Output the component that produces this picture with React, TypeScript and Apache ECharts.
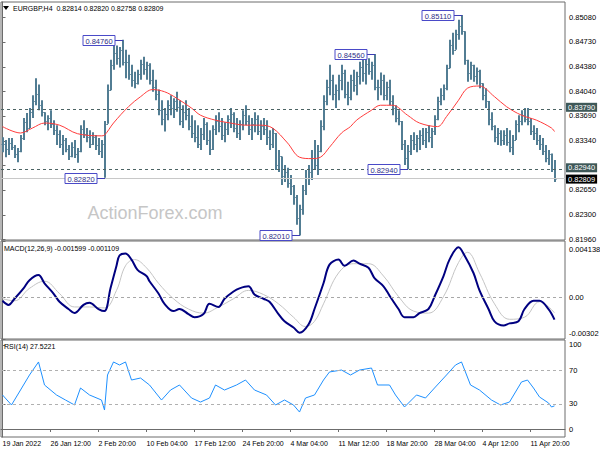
import React, { useEffect, useRef } from "react";
import * as echarts from "echarts";

// ---------- price bars (EURGBP H4, ~2 bars merged per slot) ----------
const highs = [
  0.8339, 0.8335, 0.8338, 0.8338, 0.8328, 0.8324, 0.8342, 0.8366, 0.8373, 0.838,
  0.8398, 0.8422, 0.8413, 0.8391, 0.8374, 0.837, 0.8377, 0.8363, 0.8356, 0.8349,
  0.8342, 0.8338, 0.8328, 0.8332, 0.8335, 0.8324, 0.8356, 0.8363, 0.8352, 0.8349,
  0.8346, 0.8342, 0.8338, 0.8335, 0.8362, 0.8413, 0.8448, 0.847, 0.8468, 0.8466,
  0.8476, 0.8462, 0.8455, 0.8441, 0.8431, 0.8434, 0.8448, 0.8452, 0.8445, 0.8443,
  0.8434, 0.842, 0.8406, 0.8391, 0.838, 0.8391, 0.8398, 0.8394, 0.8403, 0.8391,
  0.8384, 0.8391, 0.838, 0.837, 0.8363, 0.8356, 0.8352, 0.8366, 0.836, 0.8349,
  0.8356, 0.837, 0.8374, 0.8366, 0.836, 0.837, 0.838, 0.8374, 0.8366, 0.8363,
  0.8377, 0.8384, 0.837, 0.8366, 0.8374, 0.837, 0.8363, 0.8366, 0.8363, 0.8349,
  0.8352, 0.8345, 0.8321, 0.8312, 0.83, 0.8296, 0.8286, 0.8272, 0.8258, 0.8244,
  0.8272, 0.8293, 0.83, 0.8321, 0.8335, 0.8328, 0.8363, 0.8398, 0.842, 0.8441,
  0.8427, 0.8413, 0.8427, 0.8441, 0.8434, 0.8417, 0.8427, 0.8434, 0.8431, 0.8445,
  0.8448, 0.8451, 0.845, 0.8445, 0.8456, 0.842, 0.843, 0.8427, 0.8417, 0.842,
  0.8398, 0.8384, 0.8377, 0.8362, 0.8335, 0.8328, 0.8342, 0.8346, 0.8342, 0.8349,
  0.8352, 0.8352, 0.8356, 0.8352, 0.837, 0.8396, 0.8408, 0.8413, 0.8441, 0.8476,
  0.8486, 0.849, 0.8504, 0.8511, 0.8488, 0.8448, 0.8445, 0.8441, 0.8437, 0.8434,
  0.8415, 0.8408, 0.839, 0.8374, 0.8356, 0.8352, 0.8349, 0.8349, 0.8352, 0.8349,
  0.8342, 0.8363, 0.837, 0.8377, 0.838, 0.838, 0.8366, 0.8356, 0.8352, 0.8342,
  0.8338, 0.8328, 0.8321, 0.8316, 0.8307,
];
const lows = [
  0.8318, 0.8311, 0.8314, 0.8321, 0.831, 0.8304, 0.8318, 0.8335, 0.8346, 0.8352,
  0.8366, 0.8384, 0.8377, 0.8368, 0.8356, 0.8349, 0.8352, 0.8342, 0.8328, 0.8324,
  0.8314, 0.8318, 0.8307, 0.8311, 0.831, 0.8303, 0.8318, 0.8338, 0.8332, 0.8324,
  0.8328, 0.8321, 0.8314, 0.831, 0.8282, 0.8358, 0.8405, 0.8434, 0.8441, 0.8437,
  0.844, 0.8422, 0.842, 0.841, 0.8408, 0.8413, 0.842, 0.8427, 0.842, 0.8413,
  0.8403, 0.8391, 0.837, 0.8356, 0.8347, 0.8363, 0.837, 0.8366, 0.8375, 0.8356,
  0.8352, 0.8363, 0.8349, 0.8338, 0.8332, 0.8324, 0.8321, 0.8335, 0.8328, 0.8314,
  0.8321, 0.8342, 0.8346, 0.8335, 0.8332, 0.8342, 0.8352, 0.8346, 0.8338, 0.8335,
  0.8349, 0.8356, 0.8342, 0.8335, 0.8346, 0.8342, 0.8335, 0.8342, 0.8328, 0.8321,
  0.8324, 0.8293, 0.829, 0.8272, 0.8276, 0.8268, 0.8258, 0.8244, 0.8216, 0.8201,
  0.823, 0.8258, 0.8272, 0.8279, 0.8293, 0.8286, 0.8318, 0.8349, 0.8384, 0.8398,
  0.8391, 0.838, 0.8391, 0.8405, 0.8394, 0.8384, 0.8391, 0.8403, 0.8398, 0.8413,
  0.8417, 0.8413, 0.8427, 0.842, 0.8405, 0.8391, 0.8398, 0.8391, 0.8391, 0.8384,
  0.837, 0.836, 0.8356, 0.8321, 0.83, 0.8294, 0.8314, 0.8321, 0.8318, 0.8321,
  0.8328, 0.8324, 0.8332, 0.8324, 0.8342, 0.8363, 0.8384, 0.8391, 0.8405, 0.8436,
  0.8455, 0.8462, 0.8476, 0.8483, 0.8441, 0.8417, 0.842, 0.8417, 0.8413, 0.8408,
  0.8391, 0.838, 0.8356, 0.8349, 0.8332, 0.8328, 0.8327, 0.8328, 0.8327, 0.8318,
  0.8314, 0.8335, 0.8346, 0.8356, 0.836, 0.8356, 0.8342, 0.8335, 0.8328, 0.8321,
  0.8314, 0.8304, 0.83, 0.829, 0.8276,
];
const closes = [
  0.833, 0.8322, 0.8331, 0.8326, 0.8316, 0.832, 0.8338, 0.836, 0.8352, 0.8375,
  0.839, 0.84, 0.8385, 0.8374, 0.8362, 0.8366, 0.8358, 0.8349, 0.8344, 0.833,
  0.8335, 0.8322, 0.8312, 0.8325, 0.8316, 0.832, 0.835, 0.8344, 0.834, 0.833,
  0.834, 0.8328, 0.832, 0.833, 0.8358, 0.8405, 0.844, 0.8458, 0.845, 0.8462,
  0.8445, 0.8445, 0.8428, 0.842, 0.8415, 0.8428, 0.8442, 0.8435, 0.844, 0.842,
  0.841, 0.84, 0.8378, 0.8365, 0.8372, 0.8385, 0.838, 0.839, 0.8382, 0.8362,
  0.8375, 0.837, 0.8355, 0.8345, 0.834, 0.833, 0.8344, 0.8358, 0.8335, 0.8322,
  0.835, 0.8362, 0.8355, 0.8342, 0.835, 0.8365, 0.8372, 0.8352, 0.8345, 0.8358,
  0.837, 0.8362, 0.835, 0.8358, 0.8365, 0.8348, 0.8355, 0.835, 0.834, 0.833,
  0.8345, 0.83, 0.8312, 0.8285, 0.829, 0.8275, 0.827, 0.8255, 0.8225, 0.8238,
  0.8265, 0.8282, 0.829, 0.831, 0.83, 0.832, 0.8355, 0.839, 0.841, 0.842,
  0.84, 0.8405, 0.842, 0.843, 0.84, 0.8395, 0.842, 0.8412, 0.8425, 0.8438,
  0.843, 0.8442, 0.8432, 0.844, 0.841, 0.841, 0.842, 0.8398, 0.841, 0.839,
  0.838, 0.8366, 0.8362, 0.833, 0.831, 0.832, 0.8335, 0.833, 0.8338, 0.8342,
  0.8335, 0.8346, 0.834, 0.8348, 0.8365, 0.839, 0.8398, 0.8408, 0.8436, 0.8468,
  0.8462, 0.8484, 0.8495, 0.8488, 0.8448, 0.843, 0.844, 0.8425, 0.8432, 0.8415,
  0.8398, 0.839, 0.8365, 0.8355, 0.834, 0.8345, 0.8335, 0.8342, 0.8332, 0.8325,
  0.8335, 0.8358, 0.8362, 0.837, 0.8365, 0.8362, 0.8348, 0.8345, 0.8335, 0.833,
  0.832, 0.831, 0.8316, 0.8295, 0.82809,
];

// ---------- red moving average ----------
const maIdx = [0, 6, 10, 14, 19, 25, 33, 34, 37, 42, 46, 50, 54, 58, 63, 66, 71, 76, 81, 86, 90, 95, 99, 103, 106, 109, 113, 116, 118, 123, 126, 130, 135, 139, 145, 148, 152, 155, 159, 164, 168, 173, 178, 183, 184];
const maVals = [0.8354, 0.8345, 0.8352, 0.8359, 0.8356, 0.8344, 0.8341, 0.8342, 0.8359, 0.8382, 0.8396, 0.8406, 0.8403, 0.8394, 0.838, 0.837, 0.8363, 0.8359, 0.8356, 0.8356, 0.8352, 0.8331, 0.8311, 0.8309, 0.8311, 0.8325, 0.8345, 0.8354, 0.8363, 0.8377, 0.8384, 0.8384, 0.837, 0.8359, 0.8354, 0.8368, 0.8391, 0.8408, 0.8411, 0.8396, 0.8382, 0.837, 0.8363, 0.8352, 0.8347];

// ---------- MACD(12,26,9) ----------
const macdIdx = [0, 2, 4, 7, 9, 12, 14, 17, 19, 22, 24, 27, 29, 32, 34, 36, 38, 39, 41, 43, 45, 48, 49, 52, 54, 57, 59, 62, 64, 67, 69, 72, 74, 77, 79, 82, 84, 87, 89, 92, 94, 97, 99, 102, 104, 107, 109, 112, 114, 117, 119, 122, 124, 127, 129, 132, 134, 137, 139, 142, 144, 147, 149, 152, 154, 157, 159, 162, 164, 167, 169, 172, 174, 177, 179, 182, 184];
const macdVals = [-0.00023, -0.00053, -0.00008, 0.00068, 0.00128, 0.00165, 0.00105, 0.0003, -0.0003, -0.00083, -0.00113, -0.00053, -0.00038, -0.00083, -0.00098, 0.00068, 0.00233, 0.00308, 0.00323, 0.00278, 0.00203, 0.00158, 0.0012, 0.0003, -0.00045, -0.00098, -0.00083, -0.0012, -0.00143, -0.0012, -0.00045, -0.00068, -0.00008, 0.00045, 0.00068, 0.00083, 0.00023, -0.00008, -0.0003, -0.0012, -0.00173, -0.00218, -0.00256, -0.00196, -0.00083, 0.00105, 0.00241, 0.00278, 0.00233, 0.00271, 0.00248, 0.00218, 0.00143, 0.00083, 0.00015, -0.00083, -0.00143, -0.00143, -0.00113, -0.00083, 0.00008, 0.00158, 0.00278, 0.00368, 0.00308, 0.0018, 0.00053, -0.00083, -0.00173, -0.00203, -0.00188, -0.00173, -0.00083, -0.00023, -0.00023, -0.00083, -0.0016];
const sigIdx = [0, 4, 9, 14, 19, 24, 29, 34, 38, 41, 44, 48, 52, 57, 62, 67, 72, 77, 82, 87, 92, 97, 101, 104, 107, 112, 117, 122, 127, 132, 137, 142, 147, 152, 155, 159, 164, 169, 174, 179, 184];
const sigVals = [-0.00008, -0.00023, 0.00068, 0.0012, 0.0003, -0.00068, -0.00068, -0.00075, 0.00053, 0.00233, 0.00278, 0.00218, 0.00105, -0.00008, -0.00083, -0.00113, -0.00068, -0.00008, 0.00053, 0.00023, -0.00045, -0.00143, -0.00211, -0.00173, -0.00045, 0.0018, 0.00248, 0.00248, 0.00158, 0.00008, -0.00098, -0.00113, 0.00008, 0.00256, 0.00331, 0.0018, -0.00045, -0.00158, -0.00143, -0.0003, -0.00111];

// ---------- RSI(14) ----------
const rsiIdx = [0, 3, 6, 9, 12, 14, 18, 21, 24, 26, 29, 33, 34, 35, 37, 39, 41, 43, 46, 49, 53, 56, 59, 63, 66, 69, 71, 74, 78, 81, 84, 88, 91, 94, 97, 99, 101, 104, 107, 109, 113, 116, 119, 123, 125, 129, 131, 134, 138, 141, 144, 148, 151, 153, 156, 159, 163, 166, 169, 173, 175, 177, 179, 182, 183, 184];
const rsiVals = [40.5, 28.6, 46.4, 64.3, 79.8, 52.4, 40.5, 34.5, 28.6, 48.8, 40.5, 34.5, 22.6, 64.3, 79.8, 76.2, 79.8, 58.3, 60.7, 52.4, 34.5, 46.4, 52.4, 36.9, 32.1, 36.9, 52.4, 46.4, 52.4, 58.3, 46.4, 40.5, 28.6, 34.5, 28.6, 20.2, 36.9, 40.5, 58.3, 67.9, 70.2, 64.3, 70.2, 72.6, 52.4, 52.4, 40.5, 26.2, 40.5, 36.9, 48.8, 64.3, 76.2, 79.8, 52.4, 46.4, 34.5, 28.6, 32.1, 56.0, 58.3, 48.8, 38.1, 31.0, 26.2, 27.52];

// ---------- annotations, levels, ticks ----------
const annIdx = [34, 40, 99, 124, 135, 153];
const annPrice = [0.8282, 0.8476, 0.8201, 0.8456, 0.8294, 0.8511];
const levelPrices = [0.8379, 0.8294];
const lastPrice = 0.82809;

const priceTicks = [0.8196, 0.823, 0.8265, 0.8299, 0.8334, 0.8369, 0.8404, 0.8438, 0.8473, 0.8508];
const priceLabelTicks = [0.8196, 0.823, 0.8265, 0.8334, 0.8369, 0.8404, 0.8438, 0.8473, 0.8508];
const macdTickVals = [-0.00302, 0, 0.004138];
const macdTickLabels = ["-0.00302", "0.00", "0.004138"];
const rsiTicks = [0, 30, 70, 100];
const rsiLevels = [30, 70];
const dateTickIdx = [0, 16, 32, 48, 64, 80, 96, 112, 128, 144, 160, 176];
const dateTickLabels = ["19 Jan 2022", "26 Jan 12:00", "2 Feb 20:00", "10 Feb 04:00", "17 Feb 12:00", "24 Feb 20:00", "4 Mar 04:00", "11 Mar 12:00", "18 Mar 20:00", "28 Mar 04:00", "4 Apr 12:00", "11 Apr 20:00"];

const titleMain = "EURGBP,H4  0.82814 0.82820 0.82758 0.82809";
const titleMacd = "MACD(12,26,9) -0.001599 -0.001109";
const titleRsi = "RSI(14) 27.5221";
const watermark = "ActionForex.com";

const FONT = "'Liberation Sans', Arial, sans-serif";
const AXIS = "#6c6c6c";
const BAR = "#527d93";

function nearest(v: number, vals: number[], labels: string[]) {
  let k = 0;
  for (let j = 1; j < vals.length; j++) if (Math.abs(vals[j] - v) < Math.abs(vals[k] - v)) k = j;
  return labels[k];
}

export default function App() {
  const ref = useRef<HTMLDivElement>(null);
  useEffect(() => {
    if (!ref.current) return;
    const chart = echarts.init(ref.current, null, { renderer: "svg" });
    const ohlc = closes.map((c, i) => [i, i === 0 ? c : closes[i - 1], c, lows[i], highs[i]]);
    const pairs = (idx: number[], vals: number[]) => idx.map((x, k) => [x, vals[k]]);
    const X_MIN = -0.5, X_MAX = 187.5;
    const gridBase = { left: 1, right: 35, show: true, borderColor: AXIS, borderWidth: 1, backgroundColor: "transparent", outerBoundsMode: "none" };
    const yBase = (g: number) => ({
      type: "value", gridIndex: g, position: "right",
      axisLine: { show: true, lineStyle: { color: AXIS } },
      splitLine: { show: false },
      axisTick: { show: true, length: 3, lineStyle: { color: AXIS } },
    });
    const labelStyle = { fontSize: 7.5, color: "#000", fontFamily: FONT, margin: 4 };
    const tag = (txt: string, bg: string, dy: number) => ({
      show: true, position: "end", formatter: txt, backgroundColor: bg, color: "#fff",
      padding: [1, 2, 0, 2], lineHeight: 8, fontSize: 7.5, fontFamily: FONT, distance: 1, offset: [0, dy],
    });

    const option: any = {
      animation: false,
      backgroundColor: "#ffffff",
      textStyle: { fontFamily: FONT },
      grid: [
        { ...gridBase, top: 2, height: 238 },
        { ...gridBase, top: 241, height: 98 },
        { ...gridBase, top: 340, height: 97 },
      ],
      xAxis: [
        { type: "value", gridIndex: 0, min: X_MIN, max: X_MAX, show: false },
        { type: "value", gridIndex: 1, min: X_MIN, max: X_MAX, show: false },
        {
          type: "value", gridIndex: 2, min: X_MIN, max: X_MAX, position: "bottom",
          axisLine: { show: true, lineStyle: { color: AXIS } },
          splitLine: { show: false },
          axisTick: { show: true, length: 3, customValues: dateTickIdx, lineStyle: { color: AXIS } },
          axisLabel: {
            customValues: dateTickIdx, align: "left", margin: 3, fontSize: 7, color: "#000", fontFamily: FONT,
            formatter: (v: number) => nearest(v, dateTickIdx, dateTickLabels),
          },
        },
      ],
      yAxis: [
        {
          ...yBase(0), min: 0.81946, max: 0.85291,
          axisTick: { show: true, length: 3, customValues: priceTicks, lineStyle: { color: AXIS } },
          axisLabel: { ...labelStyle, customValues: priceLabelTicks, formatter: (v: number) => v.toFixed(5) },
        },
        {
          ...yBase(1), min: macdTickVals[0], max: macdTickVals[2],
          axisTick: { show: true, length: 3, customValues: macdTickVals, lineStyle: { color: AXIS } },
          axisLabel: {
            ...labelStyle, customValues: macdTickVals,
            verticalAlignMinLabel: "bottom", verticalAlignMaxLabel: "top",
            formatter: (v: number) => {
              const s = nearest(v, macdTickVals, macdTickLabels);
              if (s === macdTickLabels[2]) return "{t|" + s + "}";
              if (s === macdTickLabels[0]) return "{b|" + s + "}";
              return s;
            },
            rich: {
              t: { padding: [4, 0, 0, 0], fontSize: 7.5, fontFamily: FONT, color: "#000" },
              b: { padding: [0, 0, 2, 0], fontSize: 7.5, fontFamily: FONT, color: "#000" },
            },
          },
        },
        {
          ...yBase(2), min: -9.52, max: 105.95,
          axisTick: { show: true, length: 3, customValues: rsiTicks, lineStyle: { color: AXIS } },
          axisLabel: { ...labelStyle, customValues: rsiTicks, formatter: (v: number) => String(Math.round(v)) },
        },
      ],
      graphic: [
        { type: "text", z: 0, style: { text: watermark, x: 155, y: 213, align: "center", verticalAlign: "middle", fontSize: 18, fontFamily: FONT, fill: "#c6c6c6" } },
        { type: "polygon", z: 100, shape: { points: [[3, 6], [9, 6], [6, 10]] }, style: { fill: "#000" } },
        { type: "text", z: 100, style: { text: titleMain, x: 13, y: 8, verticalAlign: "middle", fontSize: 7, fontFamily: FONT, fill: "#000" } },
        { type: "text", z: 100, style: { text: titleMacd, x: 4, y: 248, verticalAlign: "middle", fontSize: 7, fontFamily: FONT, fill: "#000" } },
        { type: "text", z: 100, style: { text: titleRsi, x: 4, y: 346, verticalAlign: "middle", fontSize: 7, fontFamily: FONT, fill: "#000" } },
      ],
      series: [
        {
          type: "custom", name: "bars", xAxisIndex: 0, yAxisIndex: 0, data: ohlc, encode: { x: 0, y: [1, 2, 3, 4] },
          clip: true, silent: true,
          renderItem: (_p: any, api: any) => {
            const i = api.value(0);
            const pH = api.coord([i, api.value(4)]);
            const pL = api.coord([i, api.value(3)]);
            const pO = api.coord([i, api.value(1)]);
            const pC = api.coord([i, api.value(2)]);
            const x = Math.round(pH[0]);
            return {
              type: "group",
              children: [
                { type: "line", shape: { x1: x, y1: pH[1], x2: x, y2: pL[1] }, style: { stroke: BAR, lineWidth: 2 } },
                { type: "line", shape: { x1: x - 1.5, y1: Math.round(pO[1]) + 0.5, x2: x, y2: Math.round(pO[1]) + 0.5 }, style: { stroke: BAR, lineWidth: 1 } },
                { type: "line", shape: { x1: x, y1: Math.round(pC[1]) + 0.5, x2: x + 1.5, y2: Math.round(pC[1]) + 0.5 }, style: { stroke: BAR, lineWidth: 1 } },
              ],
            };
          },
          z: 2,
        },
        {
          type: "line", name: "MA", xAxisIndex: 0, yAxisIndex: 0, data: pairs(maIdx, maVals),
          smooth: 0.35, showSymbol: false, silent: true, lineStyle: { color: "#ff3c3c", width: 1 }, z: 3,
          markLine: {
            silent: true, symbol: ["none", "none"], animation: false, precision: 5,
            data: [
              { yAxis: levelPrices[0], lineStyle: { type: [3, 3], color: "#4d6464", width: 1 }, label: tag(levelPrices[0].toFixed(5), "#3f5959", -1.5) },
              { yAxis: levelPrices[1], lineStyle: { type: [3, 3], color: "#4d6464", width: 1 }, label: tag(levelPrices[1].toFixed(5), "#3f5959", -1.5) },
              { yAxis: lastPrice, lineStyle: { type: "solid", color: "#c8c8c8", width: 1 }, label: tag(lastPrice.toFixed(5), "#000000", 0.5) },
            ],
          },
        },
        {
          type: "custom", name: "ann", xAxisIndex: 0, yAxisIndex: 0, data: pairs(annIdx, annPrice), encode: { x: 0, y: 1 },
          clip: false, silent: true, z: 6,
          renderItem: (_p: any, api: any) => {
            const p = api.coord([api.value(0), api.value(1)]);
            const bx = Math.round(p[0]);
            const by = Math.round(p[1]) + 0.5;
            const w = 32, h = 10, gap = 8;
            const right = bx - gap;
            return {
              type: "group",
              children: [
                { type: "line", shape: { x1: right, y1: by, x2: bx, y2: by }, style: { stroke: "#3c3cb4", lineWidth: 1 } },
                { type: "rect", shape: { x: right - w, y: by - h / 2, width: w, height: h }, style: { fill: "#ffffff", stroke: "#4a4ac8", lineWidth: 1 } },
                { type: "text", style: { x: right - w / 2, y: by + 0.5, text: api.value(1).toFixed(5), align: "center", verticalAlign: "middle", fill: "#2e2e86", fontSize: 7.5, fontFamily: FONT } },
              ],
            };
          },
        },
        {
          type: "line", name: "signal", xAxisIndex: 1, yAxisIndex: 1, data: pairs(sigIdx, sigVals),
          smooth: 0.4, showSymbol: false, silent: true, lineStyle: { color: "#c4c4c4", width: 1 }, z: 2,
          markLine: {
            silent: true, symbol: ["none", "none"], label: { show: false },
            data: [{ yAxis: 0, lineStyle: { type: [3, 3], color: "#a8a8a8", width: 1 } }],
          },
        },
        {
          type: "line", name: "macd", xAxisIndex: 1, yAxisIndex: 1, data: pairs(macdIdx, macdVals),
          smooth: 0.35, showSymbol: false, silent: true, lineStyle: { color: "#000080", width: 2 }, z: 3,
        },
        {
          type: "line", name: "rsi", xAxisIndex: 2, yAxisIndex: 2, data: pairs(rsiIdx, rsiVals),
          showSymbol: false, silent: true, lineStyle: { color: "#1e90ff", width: 1 }, z: 3,
          markLine: {
            silent: true, symbol: ["none", "none"], label: { show: false },
            data: rsiLevels.map((v) => ({ yAxis: v, lineStyle: { type: [3, 3], color: "#b0b0b0", width: 1 } })),
          },
        },
      ],
    };
    chart.setOption(option);
    return () => chart.dispose();
  }, []);
  return <div ref={ref} style={{ position: "absolute", left: 0, top: 0, width: 600, height: 450, background: "#fff" }} />;
}
